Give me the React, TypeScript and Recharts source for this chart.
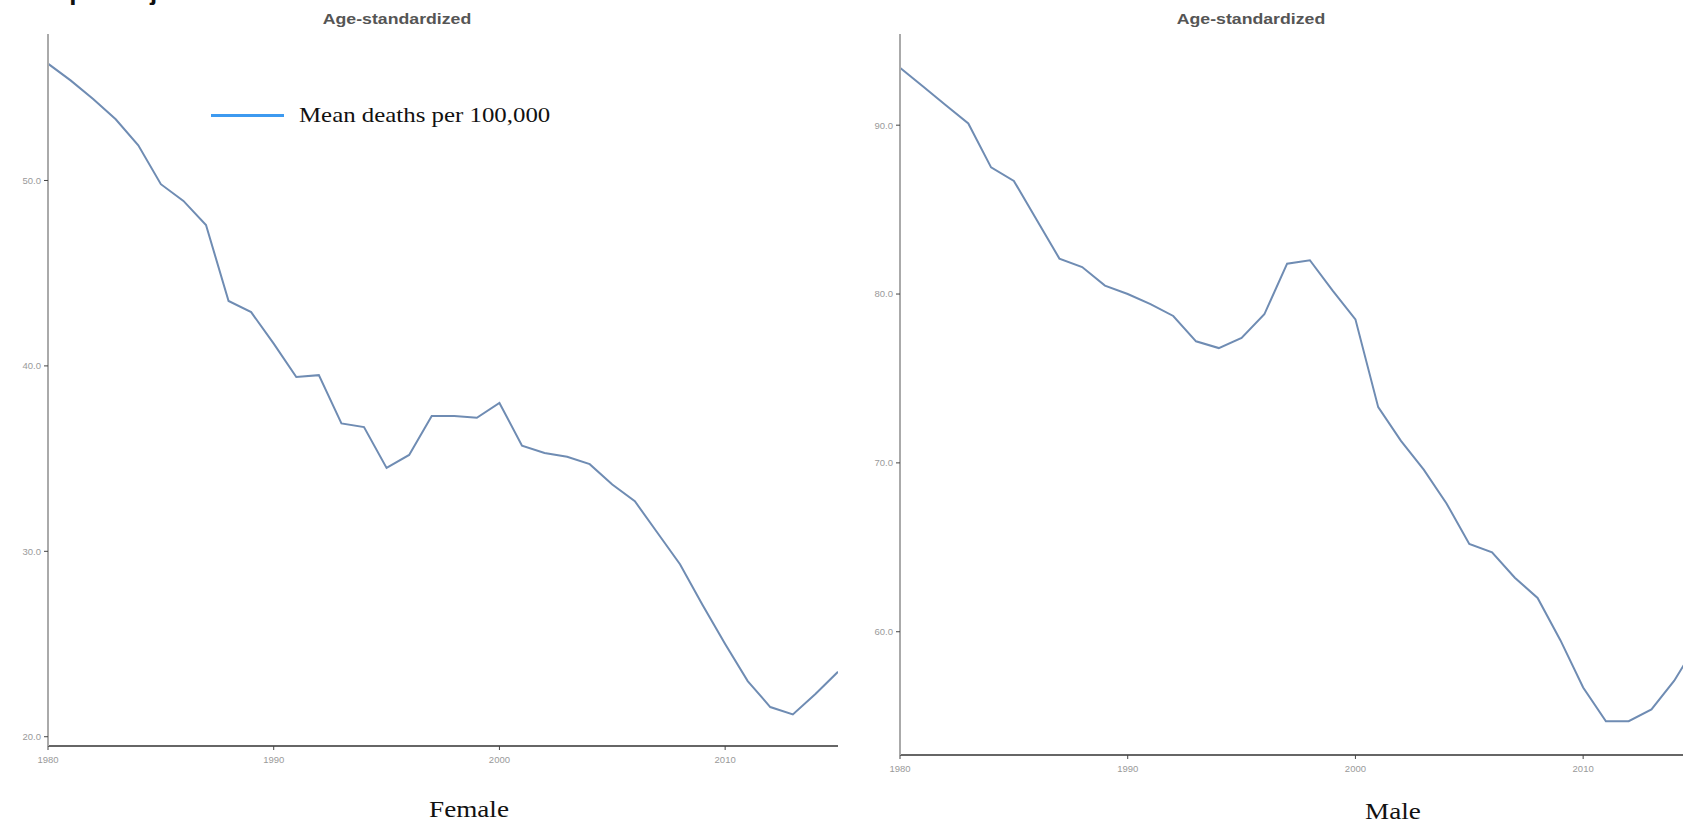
import { Line, LineChart, XAxis, YAxis } from "recharts";

// Transport injuries, mean deaths per 100,000 (age-standardized), 1980–2015
const years = [
  1980, 1981, 1982, 1983, 1984, 1985, 1986, 1987, 1988, 1989, 1990, 1991,
  1992, 1993, 1994, 1995, 1996, 1997, 1998, 1999, 2000, 2001, 2002, 2003,
  2004, 2005, 2006, 2007, 2008, 2009, 2010, 2011, 2012, 2013, 2014, 2015,
];
const femaleRate = [
  56.3, 55.4, 54.4, 53.3, 51.9, 49.8, 48.9, 47.6, 43.5, 42.9, 41.2, 39.4,
  39.5, 36.9, 36.7, 34.5, 35.2, 37.3, 37.3, 37.2, 38.0, 35.7, 35.3, 35.1,
  34.7, 33.6, 32.7, 31.0, 29.3, 27.1, 25.0, 23.0, 21.6, 21.2, 22.3, 23.5,
];
const maleRate = [
  93.4, 92.3, 91.2, 90.1, 87.5, 86.7, 84.4, 82.1, 81.6, 80.5, 80.0, 79.4,
  78.7, 77.2, 76.8, 77.4, 78.8, 81.8, 82.0, 80.2, 78.5, 73.3, 71.3, 69.6,
  67.6, 65.2, 64.7, 63.2, 62.0, 59.5, 56.7, 54.7, 54.7, 55.4, 57.1, 59.3,
];
const yearTicks = [1980, 1990, 2000, 2010];
const femaleTicks = [20, 30, 40, 50];
const maleTicks = [60, 70, 80, 90];

const femaleRows = years.map((year, i) => ({ year, value: femaleRate[i] }));
const maleRows = years.map((year, i) => ({ year, value: maleRate[i] }));

const LINE = "#6f8cb3";
const TICK = { fontSize: 9.5, fill: "#9a9a9a", fontFamily: "Liberation Sans, Arial, sans-serif" };
const SERIF = "'Liberation Serif', 'Times New Roman', serif";

// legend drawn beside the chart so it doesn't eat into the plot area
function LegendBox() {
  return (
    <div
      style={{
        position: "absolute",
        left: 211,
        top: 102,
        display: "flex",
        alignItems: "center",
        fontFamily: SERIF,
      }}
    >
      <div style={{ width: 73, height: 3, background: "#3d9af0" }} />
      <div
        style={{
          marginLeft: 15,
          fontSize: 22,
          color: "#111",
          whiteSpace: "nowrap",
          transform: "scaleX(1.13)",
          transformOrigin: "left center",
        }}
      >
        Mean deaths per 100,000
      </div>
    </div>
  );
}

type PanelProps = {
  rows: { year: number; value: number }[];
  domain: [number, number];
  ticks: number[];
  width: number;
  height: number;
  right: number;
  bottom: number;
};

function Panel({ rows, domain, ticks, width, height, right, bottom }: PanelProps) {
  return (
    <LineChart
      width={width}
      height={height}
      data={rows}
      margin={{ top: 34, right, bottom, left: 0 }}
    >
      <XAxis
        dataKey="year"
        type="number"
        domain={[1980, 2015]}
        ticks={yearTicks}
        allowDataOverflow
        height={30}
        tick={TICK}
        tickSize={4}
        tickMargin={6}
        axisLine={{ stroke: "#666", strokeWidth: 2 }}
        tickLine={{ stroke: "#444" }}
      />
      <YAxis
        type="number"
        domain={domain}
        ticks={ticks}
        allowDataOverflow
        width={48}
        tick={TICK}
        tickSize={4}
        tickMargin={3}
        tickFormatter={(v: number) => v.toFixed(1)}
        axisLine={{ stroke: "#aaa", strokeWidth: 2 }}
        tickLine={{ stroke: "#444" }}
      />
      <Line
        type="linear"
        dataKey="value"
        name="Mean deaths per 100,000"
        stroke={LINE}
        strokeWidth={2}
        dot={false}
        activeDot={false}
        isAnimationActive={false}
      />
    </LineChart>
  );
}

function Label({ text, x, y, style }: { text: string; x: number; y: number; style: React.CSSProperties }) {
  return (
    <div
      style={{
        position: "absolute",
        left: x,
        top: y,
        transform: "translate(-50%, -50%) scaleX(1.18)",
        whiteSpace: "nowrap",
        ...style,
      }}
    >
      {text}
    </div>
  );
}

const titleStyle: React.CSSProperties = {
  fontFamily: "Liberation Sans, Arial, sans-serif",
  fontWeight: 700,
  fontSize: 15,
  color: "#555",
};
const captionStyle: React.CSSProperties = {
  fontFamily: SERIF,
  fontSize: 23,
  color: "#111",
};

export default function App() {
  return (
    <div
      style={{
        position: "fixed",
        left: 0,
        top: 0,
        width: 1683,
        height: 824,
        overflow: "hidden",
        background: "#fff",
      }}
    >
      <div
        style={{
          position: "absolute",
          left: 0,
          top: -18,
          fontFamily: "Liberation Sans, Arial, sans-serif",
          fontWeight: 700,
          fontSize: 22,
          lineHeight: "22px",
          color: "#111",
          whiteSpace: "nowrap",
          transform: "scaleX(1.18)",
          transformOrigin: "left top",
        }}
      >
        Transport injuries
      </div>

      <div style={{ position: "absolute", left: 0, top: 0 }}>
        <Panel
          rows={femaleRows}
          domain={[19.5, 57.9]}
          ticks={femaleTicks}
          width={860}
          height={790}
          right={22}
          bottom={14}
        />
      </div>
      <div style={{ position: "absolute", left: 852, top: 0 }}>
        <Panel
          rows={maleRows}
          domain={[52.7, 95.4]}
          ticks={maleTicks}
          width={870}
          height={800}
          right={25}
          bottom={15}
        />
      </div>
      <LegendBox />

      <Label text="Age-standardized" x={397} y={18} style={titleStyle} />
      <Label text="Age-standardized" x={1251} y={18} style={titleStyle} />
      <Label text="Female" x={469} y={810} style={captionStyle} />
      <Label text="Male" x={1393} y={812} style={captionStyle} />
    </div>
  );
}
